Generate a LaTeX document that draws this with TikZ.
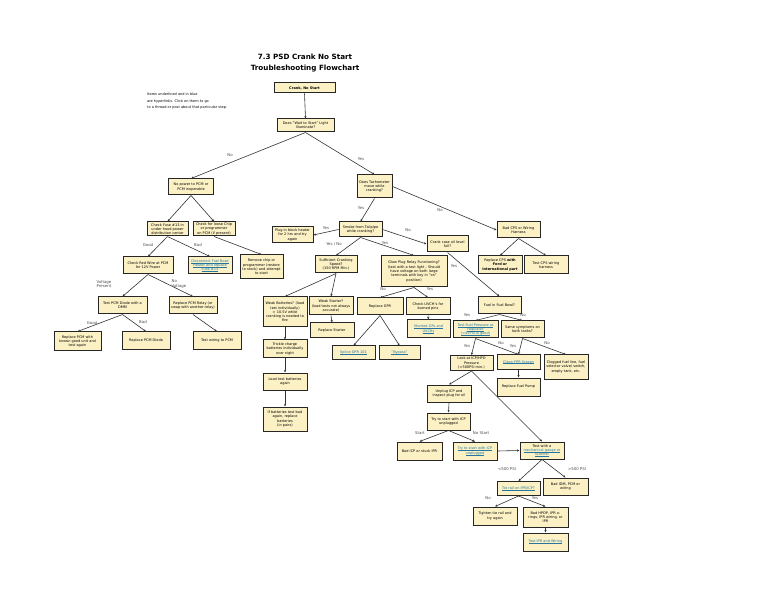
\documentclass[tikz,border=0pt]{standalone}
\usepackage{fontspec}
\setmainfont{DejaVu Sans}
\usetikzlibrary{arrows.meta}
\definecolor{boxfill}{RGB}{252,241,196}
\definecolor{linkblue}{RGB}{36,118,160}
\newlength{\lnkw}
\newcommand{\lnk}[1]{{\color{linkblue}\settowidth{\lnkw}{#1}\rlap{\rule[-0.6pt]{\lnkw}{0.2pt}}#1}}

\begin{document}
\begin{tikzpicture}[x=1pt,y=-1pt,
	stepbox/.style={draw=black!85, line width=1pt, fill=boxfill, align=center, inner sep=0.6pt, font=\fontsize{3.5}{4.3}\selectfont},
	sz/.style 2 args={minimum width=#1pt, minimum height=#2pt},
	tag/.style={text=black!70, font=\fontsize{3.9}{4.6}\selectfont, inner sep=0pt, align=center},
	conn/.style={draw=black!80, line width=0.6pt, -{Stealth[length=2.6pt,width=2.2pt]}}]
	\useasboundingbox (0,0) rectangle (768,593);
	\fill[white] (0,0) rectangle (768,593);
	% title and note
	\draw (305,63.5) node[font=\bfseries\fontsize{7.2}{11}\selectfont, align=center](title) {7.3 PSD Crank No Start\\Troubleshooting Flowchart};
	\draw (147,101.5) node[anchor=west, align=left, inner sep=0pt, font=\fontsize{3.5}{6.5}\selectfont](note) {Items underlined and in blue\\are hyperlinks. Click on them to go\\to a thread or post about that particular step.};
	% boxes
	\draw (304.5,88) node[stepbox, sz={61}{10}](st1) {\textbf{Crank, No Start}};
	\draw (305.5,125.5) node[stepbox, sz={57}{13}](st2) {Does "Wait to Start" Light\\Illuminate?};
	\draw (191,187) node[stepbox, sz={45}{16}](st3) {No power to PCM or\\PCM inoperable};
	\draw (374.5,186.5) node[stepbox, sz={35}{23}](st4) {Does Tachometer\\move while\\cranking?};
	\draw (167.5,229) node[stepbox, sz={41}{14}](st5) {Check Fuse \#13 in\\under hood power\\distribution center};
	\draw (214,229) node[stepbox, sz={42}{14}](st6) {Check for loose Chip\\or programmer\\on PCM (if present)};
	\draw (148,265.5) node[stepbox, sz={50}{17}](st7) {Check Red Wire at PCM\\for 12V Power};
	\draw (210,265.5) node[stepbox, sz={44}{17}](st8) {\lnk{Disconnect Fuel Bowl}\\\lnk{Heater and replace}\\\lnk{Fuse \#13}};
	\draw (261.5,267) node[stepbox, sz={43}{24}](st9) {Remove chip or\\programmer (restore\\to stock) and attempt\\to start};
	\draw (122.5,305.5) node[stepbox, sz={49}{17}](st10) {Test PCM Diode with a\\DMM};
	\draw (193,305.5) node[stepbox, sz={48}{17}](st11) {Replace PCM Relay (or\\swap with another relay)};
	\draw (77.5,341.5) node[stepbox, sz={47}{19}](st12) {Replace PCM with\\known good unit and\\test again};
	\draw (146,341) node[stepbox, sz={48}{18}](st13) {Replace PCM Diode};
	\draw (217,341) node[stepbox, sz={48}{18}](st14) {Test wiring to PCM};
	\draw (360.5,229.5) node[stepbox, sz={43}{15}](st15) {Smoke from Tailpipe\\while cranking?};
	\draw (518.5,230) node[stepbox, sz={43}{16}](st16) {Bad CPS or Wiring\\Harness};
	\draw (292.5,235) node[stepbox, sz={41}{16}](st17) {Plug in block heater\\for 2 hrs and try\\again};
	\draw (447.5,244) node[stepbox, sz={41}{16}](st18) {Crank case oil level\\full?};
	\draw (336,264.5) node[stepbox, sz={42}{17}](st19) {Sufficient Cranking\\Speed?\\(150 RPM Min.)};
	\draw (414,271.5) node[stepbox, sz={66}{31}](st20) {Glow Plug Relay Functioning?\\(test with a test light - Should\\have voltage on both large\\terminals with key in "on"\\position)};
	\draw (500,265) node[stepbox, sz={44}{18}](st21) {Replace CPS \textbf{with}\\\textbf{Ford or}\\\textbf{International part}};
	\draw (546,265) node[stepbox, sz={44}{18}](st22) {Test CPS wiring\\harness};
	\draw (499.5,305.5) node[stepbox, sz={43}{17}](st23) {Fuel in Fuel Bowl?};
	\draw (285,312) node[stepbox, sz={44}{30}](st24) {Weak Batteries? (load\\test individually)\\> 10.5V while\\cranking is needed to\\fire};
	\draw (331,306) node[stepbox, sz={44}{18}](st25) {Weak Starter?\\(load tests not always\\accurate)};
	\draw (332,330.5) node[stepbox, sz={44}{15}](st26) {Replace Starter};
	\draw (285,349) node[stepbox, sz={44}{18}](st27) {Trickle charge\\batteries individually\\over night};
	\draw (285,381.5) node[stepbox, sz={44}{17}](st28) {Load test batteries\\again};
	\draw (285,419) node[stepbox, sz={44}{24}](st29) {If batteries test bad\\again, replace\\batteries\\(in pairs)};
	\draw (380,306.5) node[stepbox, sz={46}{17}](st30) {Replace GPR};
	\draw (428,306.5) node[stepbox, sz={44}{17}](st31) {Check UVCH's for\\burned pins};
	\draw (428.5,329) node[stepbox, sz={43}{18}](st32) {\lnk{Shorted GPs and}\\\lnk{UVCHs}};
	\draw (353.5,353) node[stepbox, sz={43}{14}](st33) {\lnk{Splice GPR 101}};
	\draw (399.5,353) node[stepbox, sz={41}{14}](st34) {\lnk{"Bypass"}};
	\draw (475.5,329.5) node[stepbox, sz={45}{17}](st35) {\lnk{Test Fuel Pressure at}\\\lnk{regulator}\\\lnk{(>45PSI is good)}};
	\draw (522.5,329.5) node[stepbox, sz={43}{17}](st36) {Same symptoms on\\both tanks?};
	\draw (471.5,363) node[stepbox, sz={43}{15}](st37) {Look at ICP/HPO\\Pressure\\(>500PSI min.)};
	\draw (518.5,362) node[stepbox, sz={43}{14}](st38) {\lnk{Clean FPR Screen}};
	\draw (566,367) node[stepbox, sz={44}{24}](st39) {Clogged fuel line, fuel\\selector valve/ switch,\\empty tank, etc.};
	\draw (518.5,387) node[stepbox, sz={43}{18}](st40) {Replace Fuel Pump};
	\draw (449,393.5) node[stepbox, sz={44}{17}](st41) {Unplug ICP and\\inspect plug for oil};
	\draw (448.5,421.5) node[stepbox, sz={43}{17}](st42) {Try to start with ICP\\unplugged};
	\draw (419.5,451) node[stepbox, sz={45}{18}](st43) {Bad ICP or stuck IPR};
	\draw (475,451) node[stepbox, sz={44}{18}](st44) {\lnk{Try to start with ICP}\\\lnk{unplugged}};
	\draw (542,450.5) node[stepbox, sz={44}{17}](st45) {Test with a\\\lnk{mechanical gauge or}\\\lnk{scanner}};
	\draw (518.5,488.5) node[stepbox, sz={43}{14}](st46) {\lnk{Tie rail on IPR/ICP?}};
	\draw (565.5,486.5) node[stepbox, sz={45}{17}](st47) {Bad IDM, PCM or\\wiring};
	\draw (495,516) node[stepbox, sz={44}{18}](st48) {Tighten tie rail and\\try again};
	\draw (545.5,517) node[stepbox, sz={45}{20}](st49) {Bad HPOP, IPR o-\\rings, IPR wiring, or\\IPR};
	\draw (545.5,542) node[stepbox, sz={45}{18}](st50) {\lnk{Test IPR and Wiring}};
	% connectors
	\draw[conn] (st1.south) -- (st2.north);
	\draw[conn] (st2.south) -- (st3.north);
	\draw[conn] (st2.south) -- (st4.north);
	\draw[conn] (st3.south) -- (st5.north);
	\draw[conn] (st3.south) -- (st6.north);
	\draw[conn] (st5.south) -- (st7.north);
	\draw[conn] (st5.south) -- (st8.north);
	\draw[conn] (st6.south) -- (st9.north);
	\draw[conn] (st7.south) -- (st10.north);
	\draw[conn] (st7.south) -- (st11.north);
	\draw[conn] (st10.south) -- (st12.north);
	\draw[conn] (st10.south) -- (st13.north);
	\draw[conn] (st11.south) -- (st14.north);
	\draw[conn] (st4.south) -- (st15.north);
	\draw[conn] (st4.east) -- (st16.west);
	\draw[conn] (st15.west) -- (st17.east);
	\draw[conn] (st15.east) -- (st18.west);
	\draw[conn] (st15.south) -- (st19.north);
	\draw[conn] (st15.south) -- (st20.north);
	\draw[conn] (st16.south) -- (st21.north);
	\draw[conn] (st16.south) -- (st22.north);
	\draw[conn] (st18.south) -- (st23.north);
	\draw[conn] (st19.south) -- (st24.north);
	\draw[conn] (st19.south) -- (st25.north);
	\draw[conn] (st25.south) -- (st26.north);
	\draw[conn] (st24.south) -- (st27.north);
	\draw[conn] (st27.south) -- (st28.north);
	\draw[conn] (st28.south) -- (st29.north);
	\draw[conn] (st20.south) -- (st30.north);
	\draw[conn] (st20.south) -- (st31.north);
	\draw[conn] (st31.south) -- (st32.north);
	\draw[conn] (st30.south) -- (st33.north);
	\draw[conn] (st30.south) -- (st34.north);
	\draw[conn] (st23.south) -- (st35.north);
	\draw[conn] (st23.south) -- (st36.north);
	\draw[conn] (st35.south) -- (st37.north);
	\draw[conn] (st35.south) -- (st38.north);
	\draw[conn] (st36.south) -- (st38.north);
	\draw[conn] (st36.south) -- (st39.north);
	\draw[conn] (st38.south) -- (st40.north);
	\draw[conn] (st37.south) -- (st41.north);
	\draw[conn] (st37.south) -- (st45.north);
	\draw[conn] (st41.south) -- (st42.north);
	\draw[conn] (st42.south) -- (st43.north);
	\draw[conn] (st42.south) -- (st44.north);
	\draw[conn] (st44.east) -- (st45.west);
	\draw[conn] (st45.south) -- (st46.north);
	\draw[conn] (st45.south) -- (st47.north);
	\draw[conn] (st46.south) -- (st48.north);
	\draw[conn] (st46.south) -- (st49.north);
	\draw[conn] (st49.south) -- (st50.north);
	% labels
	\draw (230,155) node[tag](lb1) {No};
	\draw (361,159) node[tag](lb2) {Yes};
	\draw (148,245) node[tag](lb3) {Good};
	\draw (198,245) node[tag](lb4) {Bad};
	\draw (104,284) node[tag](lb5) {Voltage\\Present};
	\draw (179,284) node[tag, align=left](lb6) {No\\Voltage};
	\draw (92,323) node[tag](lb7) {Good};
	\draw (143,322) node[tag](lb8) {Bad};
	\draw (361,208) node[tag](lb9) {Yes};
	\draw (440,210) node[tag](lb10) {No};
	\draw (326,228) node[tag](lb11) {Yes};
	\draw (408,230) node[tag](lb12) {No};
	\draw (334,244.5) node[tag](lb13) {Yes / No};
	\draw (385,243) node[tag](lb14) {Yes};
	\draw (454,266) node[tag](lb15) {Yes};
	\draw (383,289) node[tag](lb16) {No};
	\draw (430,289) node[tag](lb17) {Yes};
	\draw (467,315) node[tag](lb18) {Yes};
	\draw (523,315) node[tag](lb19) {No};
	\draw (467,346) node[tag](lb20) {Yes};
	\draw (501,343) node[tag](lb21) {No};
	\draw (513,346) node[tag](lb22) {Yes};
	\draw (547,343) node[tag](lb23) {No};
	\draw (420,433) node[tag](lb24) {Start};
	\draw (481,433) node[tag](lb25) {No Start};
	\draw (507,469) node[tag](lb26) {<500 PSI};
	\draw (577,469) node[tag](lb27) {>500 PSI};
	\draw (488,498) node[tag](lb28) {No};
	\draw (535,498) node[tag](lb29) {Yes};
\end{tikzpicture}
\end{document}
